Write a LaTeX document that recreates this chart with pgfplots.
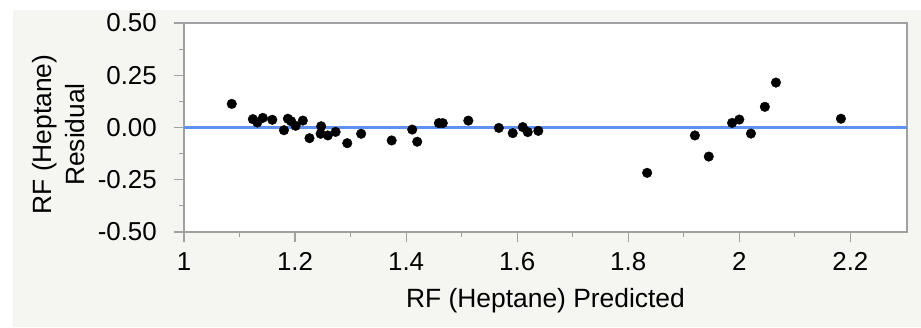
\documentclass[border=0pt]{standalone}
\usepackage{fontspec}
\setmainfont{Liberation Sans}
\usepackage{pgfplots}
\pgfplotsset{compat=1.18}
\definecolor{bgpanel}{RGB}{245,245,241}
\definecolor{axgray}{RGB}{160,160,160}
\definecolor{fitblue}{RGB}{95,145,240}
\begin{document}
\begin{tikzpicture}[x=1bp,y=1bp]
\useasboundingbox (0,0) rectangle (921,327);
\fill[bgpanel] (13,0) rectangle (921,317);
\begin{axis}[
  at={(184bp,95bp)}, anchor=south west,
  width=723bp, height=209bp, scale only axis,
  xmin=1, xmax=2.302, ymin=-0.5, ymax=0.5,
  axis background/.style={fill=white},
  axis line style={axgray, line width=1.5bp},
  xtick={1,1.2,1.4,1.6,1.8,2,2.2},
  xticklabels={1,1.2,1.4,1.6,1.8,2,2.2},
  ytick={-0.5,-0.25,0,0.25,0.5},
  yticklabels={-0.50,-0.25,0.00,0.25,0.50},
  minor x tick num=1, minor y tick num=1,
  tick align=outside,
  major tick length=10bp, minor tick length=5bp,
  every tick/.style={axgray, line width=1.2bp},
  xtick pos=bottom, ytick pos=left,
  ticklabel style={font=\fontsize{26}{30}\selectfont, black, inner sep=0pt},
  xticklabel style={anchor=north, yshift=-10bp},
  yticklabel style={anchor=east, xshift=-17bp},
  xlabel={RF (Heptane) Predicted},
  ylabel={RF (Heptane)\\Residual},
  label style={font=\fontsize{26.5}{33}\selectfont, black},
  xlabel style={at={(axis description cs:0.5,-0.3589)}, anchor=base},
  ylabel style={align=center, at={(axis description cs:-0.1733,0.4665)}, anchor=center},
  clip=false,
]
\addplot[fitblue, line width=3.8bp] coordinates {(1,0) (2.302,0)};
\addplot[only marks, mark=*, mark size=4.8bp, mark options={fill=black, draw=black}] coordinates {
(1.086,0.113) (1.124,0.040) (1.132,0.024) (1.142,0.046) (1.159,0.037)
(1.180,-0.013) (1.187,0.042) (1.193,0.030) (1.201,0.008) (1.214,0.033)
(1.226,-0.051) (1.247,0.006) (1.246,-0.030) (1.259,-0.038) (1.273,-0.021)
(1.294,-0.075) (1.319,-0.030) (1.374,-0.062) (1.411,-0.010) (1.420,-0.068)
(1.459,0.021) (1.466,0.021) (1.512,0.033) (1.567,-0.002) (1.592,-0.027)
(1.610,0.002) (1.619,-0.022) (1.638,-0.016)
(1.834,-0.217) (1.920,-0.038) (1.945,-0.139) (1.987,0.022) (2.000,0.038)
(2.021,-0.029) (2.046,0.099) (2.066,0.215) (2.183,0.042)
};
\end{axis}
\end{tikzpicture}
\end{document}
